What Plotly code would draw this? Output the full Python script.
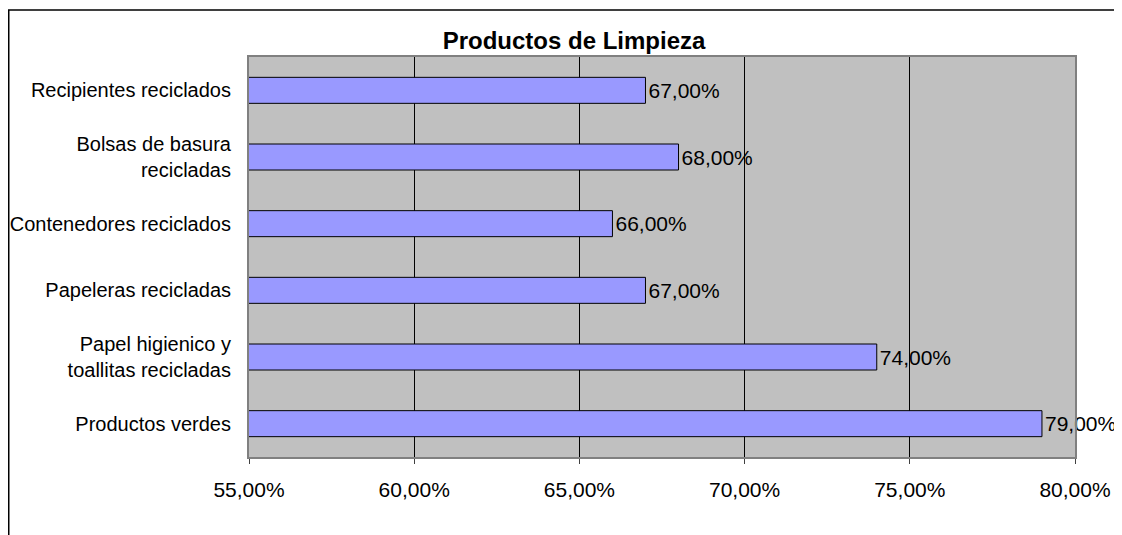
import plotly.graph_objects as go

categories = ["Recipientes reciclados", "Bolsas de basura<br>recicladas", "Contenedores reciclados",
              "Papeleras recicladas", "Papel higienico y<br>toallitas recicladas", "Productos verdes"]
values = [0.67, 0.68, 0.66, 0.67, 0.74, 0.79]
x_ticks = [0.55, 0.60, 0.65, 0.70, 0.75, 0.80]
title = "Productos de Limpieza"

# page body adds an 8px offset; figure sized to fill the rest of the window
W, H = 1114, 527
L, R, T, B = 241, 47, 49, 78
pw, ph = W - L - R, H - T - B
FONT = "Liberation Sans, Arial"

fig = go.Figure(go.Bar(
    y=categories, x=values, orientation="h",
    marker=dict(color="#9999FF", line=dict(color="black", width=1)),
    texttemplate="%{x:.2%}", textposition="outside",
    textfont=dict(size=21, color="black", family=FONT),
    cliponaxis=False,
))

fig.update_layout(
    width=W, height=H,
    margin=dict(l=L, r=R, t=T, b=B, autoexpand=False),
    paper_bgcolor="white", plot_bgcolor="#C0C0C0",
    separators=",.",
    bargap=0.61,
    showlegend=False,
    font=dict(family=FONT, size=20, color="black"),
    title=dict(text="<b>" + title + "</b>", x=566 / W, xanchor="center",
               y=1 - 33 / H, yanchor="middle", font=dict(size=24, color="black")),
    xaxis=dict(range=[0.55, 0.80], tickvals=x_ticks, tickformat=".2%",
               tickfont=dict(size=21),
               showgrid=True, gridcolor="black", gridwidth=1,
               showline=True, linecolor="#808080", linewidth=2, mirror=True,
               ticks="outside", ticklen=5, tickcolor="#404040",
               zeroline=False, ticklabelstandoff=8),
    yaxis=dict(autorange="reversed", showline=True, linecolor="#808080", linewidth=2,
               mirror=True, ticks="", showgrid=False, ticklabelstandoff=12),
)

# outer chart border (extends beyond the right/bottom of the image)
fig.add_shape(type="rect", xref="paper", yref="paper",
              x0=(0.75 - L) / pw, x1=(W + 20 - L) / pw,
              y0=-(B + 20) / ph, y1=1 + (T - 2) / ph,
              line=dict(color="black", width=1.5), layer="below")

fig.write_html("out.html")
